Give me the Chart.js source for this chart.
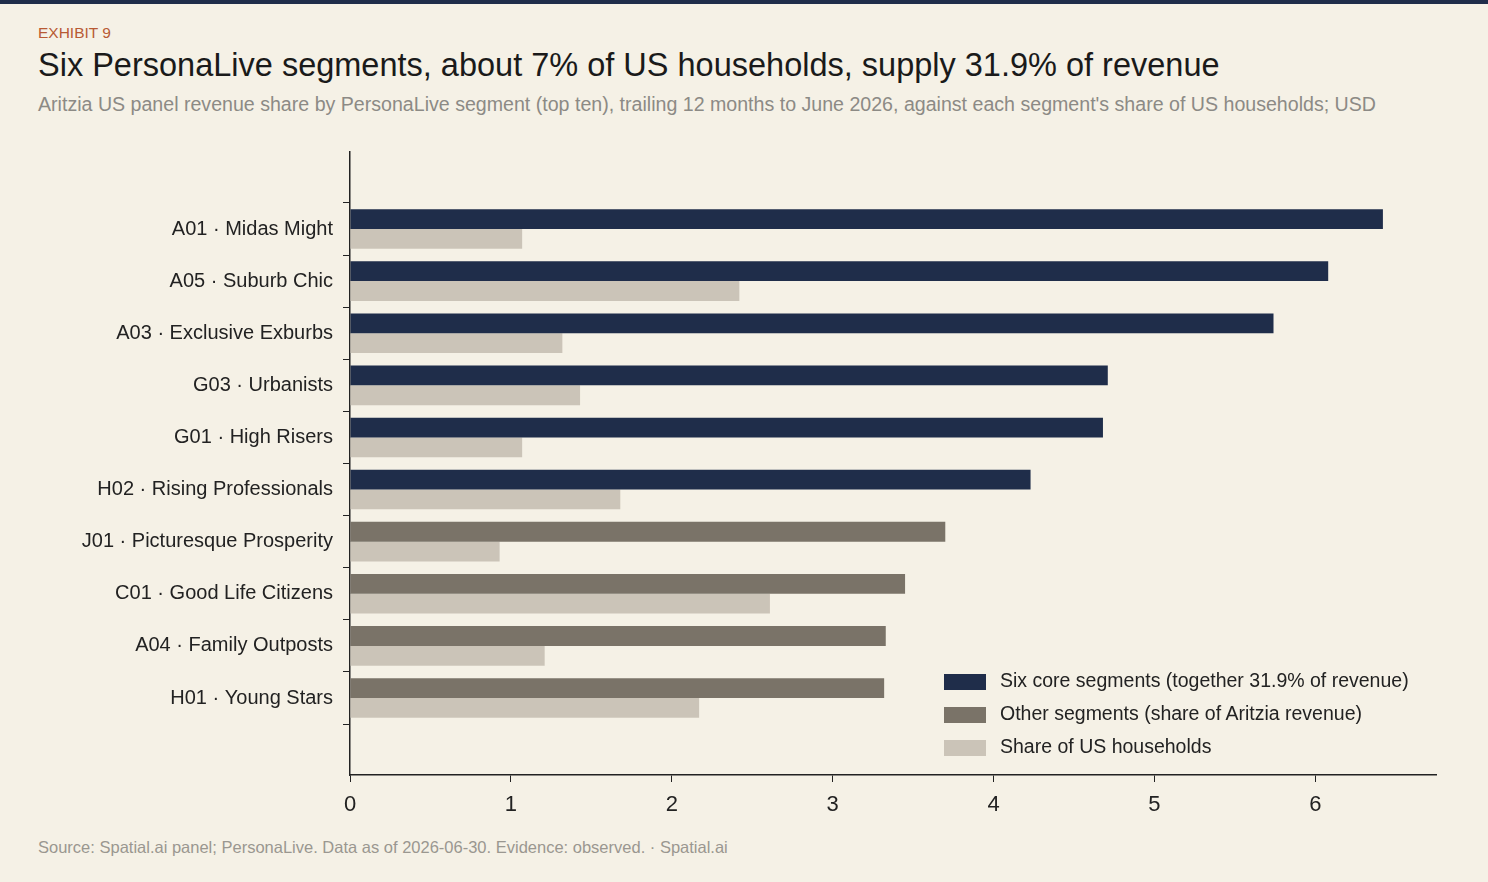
<!DOCTYPE html>
<html><head><meta charset="utf-8">
<script src="https://cdn.jsdelivr.net/npm/chart.js@4"></script>
<style>
body{margin:0;width:1488px;height:882px;background:#f5f1e6;font-family:"Liberation Sans",Arial,sans-serif;position:relative;overflow:hidden}
.bar{position:absolute;left:0;top:0;width:1488px;height:4px;background:#1f2d4a}
.t{position:absolute;left:38px;white-space:nowrap}
#wrap{position:absolute;left:0;top:130px;width:1488px;height:690px}
.lg{position:absolute;left:944px;font-size:19.5px;color:#222}
.lg span{display:inline-block;width:42px;height:16px;vertical-align:middle;margin-right:14px}
</style></head><body>
<div class="bar"></div>
<div class="t" style="top:24px;font-size:15.5px;color:#b85a34">EXHIBIT 9</div>
<div class="t" style="top:47px;font-size:32.5px;color:#1a1a1a">Six PersonaLive segments, about 7% of US households, supply 31.9% of revenue</div>
<div class="t" style="top:93px;font-size:19.6px;color:#8c8a85">Aritzia US panel revenue share by PersonaLive segment (top ten), trailing 12 months to June 2026, against each segment's share of US households; USD</div>
<div id="wrap"><canvas id="c"></canvas></div>
<div class="lg" style="top:669px"><span style="background:#1f2d4a"></span>Six core segments (together 31.9% of revenue)</div>
<div class="lg" style="top:702px"><span style="background:#7a7368"></span>Other segments (share of Aritzia revenue)</div>
<div class="lg" style="top:735px"><span style="background:#cbc4b8"></span>Share of US households</div>
<div class="t" style="top:838px;font-size:16.5px;color:#9a9790">Source: Spatial.ai panel; PersonaLive. Data as of 2026-06-30. Evidence: observed. · Spatial.ai</div>
<script>
const categories=["A01 · Midas Might","A05 · Suburb Chic","A03 · Exclusive Exburbs","G03 · Urbanists","G01 · High Risers","H02 · Rising Professionals","J01 · Picturesque Prosperity","C01 · Good Life Citizens","A04 · Family Outposts","H01 · Young Stars"];
const revenueShare=[6.42,6.08,5.74,4.71,4.68,4.23,3.70,3.45,3.33,3.32];
const householdShare=[1.07,2.42,1.32,1.43,1.07,1.68,0.93,2.61,1.21,2.17];
const isCore=[true,true,true,true,true,true,false,false,false,false];
const xTicks=[0,1,2,3,4,5,6];
const dark='#222';
new Chart(document.getElementById('c'),{
 type:'bar',
 data:{datasets:[
  {label:'Revenue',data:revenueShare.map((v,i)=>({x:v,y:i})),backgroundColor:isCore.map(c=>c?'#1f2d4a':'#7a7368'),categoryPercentage:0.76,barPercentage:1},
  {label:'Households',data:householdShare.map((v,i)=>({x:v,y:i})),backgroundColor:'#cbc4b8',categoryPercentage:0.76,barPercentage:1}
 ]},
 options:{indexAxis:'y',responsive:true,maintainAspectRatio:false,animation:false,
  layout:{padding:{left:0,right:52,top:8,bottom:0}},
  plugins:{legend:{display:false},tooltip:{enabled:false}},
  scales:{
   x:{type:'linear',min:0,max:6.75,afterFit:s=>{s.height=45},
    afterBuildTicks:s=>{s.ticks=xTicks.map(v=>({value:v}))},
    border:{color:dark,width:1.5},
    grid:{drawOnChartArea:false,tickLength:7,color:dark},
    ticks:{color:dark,font:{size:22,family:'Liberation Sans'},padding:10}},
   y:{type:'linear',reverse:true,min:-0.88,max:9.88,afterFit:s=>{s.width=350},
    afterBuildTicks:s=>{s.ticks=categories.map((c,i)=>({value:i}))},
    border:{color:dark,width:1.5},
    grid:{drawOnChartArea:false,tickLength:7,color:dark},
    ticks:{color:dark,font:{size:20,family:'Liberation Sans'},padding:10,callback:v=>categories[v]}}
  }}
});
</script></body></html>
